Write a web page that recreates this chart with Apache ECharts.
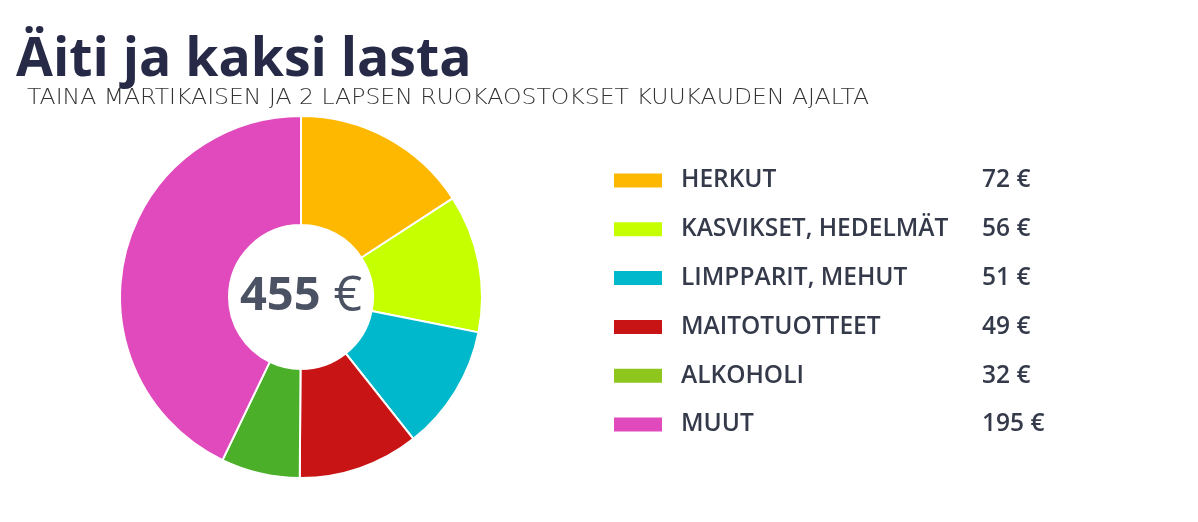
<!DOCTYPE html>
<html lang="fi">
<head>
  <meta charset="UTF-8">
  <title>Äiti ja kaksi lasta</title>
  <script src="https://cdn.jsdelivr.net/npm/echarts@6/dist/echarts.min.js"></script>
  <style>
    html, body { margin: 0; padding: 0; background: #fff; }
    #main { width: 1198px; height: 522px; }
  </style>
</head>
<body>
<div id="main"></div>
<script>
  // kategoriat ja summat (€)
  var categories = ['HERKUT', 'KASVIKSET, HEDELMÄT', 'LIMPPARIT, MEHUT', 'MAITOTUOTTEET', 'ALKOHOLI', 'MUUT'];
  var values = [72, 56, 51, 49, 32, 195];
  var sliceColors = ['#FFB800', '#C6FF00', '#00B8CC', '#C81414', '#4BAF2A', '#E04ABD'];
  var legendColors = ['#FFB800', '#C6FF00', '#00B8CC', '#C81414', '#8EC61E', '#E04ABD'];
  var total = 455;

  var chart = echarts.init(document.getElementById('main'));

  var pieData = [];
  var legendData = [];
  for (var i = 0; i < categories.length; i++) {
    pieData.push({ name: categories[i], value: values[i], itemStyle: { color: sliceColors[i] } });
    legendData.push({ name: categories[i], itemStyle: { color: legendColors[i] } });
  }

  chart.setOption({
    animation: false,
    title: [
      {
        text: 'Äiti ja kaksi lasta',
        left: 16, top: 34,
        padding: 0,
        textStyle: { fontFamily: 'Open Sans', fontWeight: 'bold', fontSize: 53.5, color: '#262A47' }
      },
      {
        text: '{b|' + total + '}{l| €}',
        left: 301, top: 297, textAlign: 'center', textVerticalAlign: 'middle',
        padding: 0,
        textStyle: {
          rich: {
            b: { fontFamily: 'Open Sans', fontWeight: 'bold', fontSize: 47, color: '#4B5263' },
            l: { fontFamily: 'Open Sans', fontWeight: 'normal', fontSize: 50, color: '#4B5263' }
          }
        }
      }
    ],
    // alaotsikko venytetään leveyteen, kirjainväliä ei ole
    graphic: [{
      type: 'text',
      x: 27, y: 99,
      scaleX: 1.12,
      style: {
        text: 'TAINA MARTIKAISEN JA 2 LAPSEN RUOKAOSTOKSET KUUKAUDEN AJALTA',
        font: '200 21px "DejaVu Sans"',
        fill: '#333333',
        verticalAlign: 'middle'
      }
    }],
    legend: {
      orient: 'vertical',
      left: 612, top: 168,
      padding: 0,
      itemWidth: 50, itemHeight: 16,
      itemGap: 23.8,
      icon: 'rect',
      data: legendData,
      selectedMode: false,
      formatter: function (name) {
        var v = values[categories.indexOf(name)];
        return '{n|' + name + '}{v|' + v + ' €}';
      },
      textStyle: {
        rich: {
          n: { width: 301, padding: [0, 0, 0, 13], fontFamily: 'Open Sans', fontWeight: 600, fontSize: 24.5, color: '#343a4a' },
          v: { fontFamily: 'Open Sans', fontWeight: 600, fontSize: 24.5, color: '#343a4a' }
        }
      }
    },
    series: [{
      type: 'pie',
      center: [301, 297],
      radius: [72, 181],
      startAngle: 90,
      clockwise: true,
      label: { show: false },
      labelLine: { show: false },
      emphasis: { disabled: true },
      itemStyle: { borderColor: '#ffffff', borderWidth: 2 },
      data: pieData
    }]
  });
</script>
</body>
</html>
